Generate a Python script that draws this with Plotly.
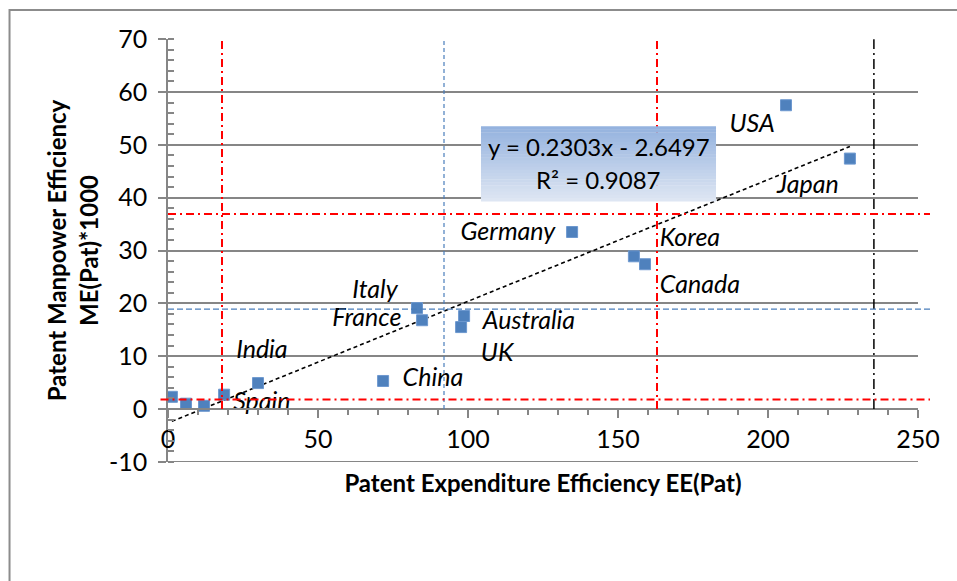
import plotly.graph_objects as go
import numpy as np

# ---- data ----
countries = ["USA", "Japan", "Korea", "Canada", "Germany", "Italy", "France",
             "Australia", "UK", "China", "India", "Spain", "", "", ""]
ee_pat = [206.0, 227.3, 155.3, 159.0, 134.7, 83.0, 84.7, 98.7, 97.7, 71.7,
          30.0, 18.7, 1.3, 6.0, 12.0]
me_pat = [57.5, 47.4, 28.9, 27.4, 33.5, 19.1, 16.8, 17.6, 15.5, 5.3,
          4.9, 2.7, 2.3, 1.0, 0.6]

label_names = ["USA", "Japan", "Korea", "Canada", "Germany", "Italy", "France",
               "Australia", "UK", "China", "India", "Spain"]
label_x = [194.7, 213.3, 174.0, 177.3, 113.3, 69.0, 66.3, 120.3, 109.7, 88.3, 31.3, 31.3]
label_y = [53.7, 42.0, 32.1, 23.1, 33.1, 22.1, 16.8, 16.3, 10.2, 5.5, 10.8, 0.9]

# trendline (from chart equation)
slope, intercept, r2 = 0.2303, -2.6497, 0.9087

# reference lines
red_v = [18.0, 163.0]
blue_v = 92.0
black_v = 235.3
red_h = [36.9, 1.8]
blue_h = 18.9

x_ticks = [0, 50, 100, 150, 200, 250]
y_ticks = [-10, 0, 10, 20, 30, 40, 50, 60, 70]
y_ticktext = ["-10", "0", "10", "20", "30", "40", "50", "60", "70"]

FONT = "Lato"
GRAY = "#868686"
BLUE_LINE = "#4a7ebb"

fig = go.Figure()

tx = np.array([min(ee_pat), max(ee_pat)])
fig.add_trace(go.Scatter(x=tx, y=slope * tx + intercept, mode="lines",
                         line=dict(color="black", width=1.6, dash="4px,3px"),
                         showlegend=False, hoverinfo="skip"))

fig.add_trace(go.Scatter(x=ee_pat, y=me_pat, mode="markers",
                         marker=dict(symbol="square", size=11, color="#4f81bd",
                                     line=dict(color="#6d98cf", width=1)),
                         showlegend=False))

fig.add_trace(go.Scatter(x=label_x, y=label_y, mode="text", text=label_names,
                         textfont=dict(family=FONT, size=25, color="black", style="italic"),
                         cliponaxis=False, showlegend=False, hoverinfo="skip"))

shapes = []
# bottom gridline at the lowest y tick
shapes.append(dict(type="line", xref="paper", yref="y", x0=-0.0107, x1=1,
                   y0=y_ticks[0], y1=y_ticks[0], line=dict(color=GRAY, width=1.5),
                   layer="below"))
for xv in red_v:
    shapes.append(dict(type="line", xref="x", yref="y", x0=xv, x1=xv, y0=0, y1=70,
                       line=dict(color="#ff0000", width=2, dash="8px,4px,2px,4px")))
shapes.append(dict(type="line", xref="x", yref="y", x0=blue_v, x1=blue_v, y0=0, y1=70,
                   line=dict(color=BLUE_LINE, width=1.2, dash="4px,3px")))
shapes.append(dict(type="line", xref="x", yref="y", x0=black_v, x1=black_v, y0=0, y1=70,
                   line=dict(color="black", width=1.5, dash="10px,4px,2px,4px")))
for i, yv in enumerate(red_h):
    shapes.append(dict(type="line", xref="paper", yref="y", x0=-0.01 if i == 1 else 0,
                       x1=1.016, y0=yv, y1=yv,
                       line=dict(color="#ff0000", width=2, dash="8px,4px,2px,4px")))
shapes.append(dict(type="line", xref="paper", yref="y", x0=0, x1=1.016, y0=blue_h, y1=blue_h,
                   line=dict(color=BLUE_LINE, width=1.2, dash="6px,3px")))

# equation box with vertical gradient
bx0, bx1, by0, by1 = 0.4173, 0.7307, 0.617, 0.794
n = 24
top = np.array([149, 179, 223])
bot = np.array([222, 230, 243])
for k in range(n):
    t = k / (n - 1)
    c = top * (1 - t) + bot * t
    y_hi = by1 - (by1 - by0) * k / n
    y_lo = by1 - (by1 - by0) * (k + 1) / n
    shapes.append(dict(type="rect", xref="paper", yref="paper", x0=bx0, x1=bx1,
                       y0=y_lo - 0.001, y1=y_hi, line=dict(width=0),
                       fillcolor="rgb(%d,%d,%d)" % tuple(c.astype(int)), layer="above"))

# outer chart border
shapes.append(dict(type="rect", xref="paper", yref="paper", x0=-0.2113, x1=1.06,
                   y0=-0.3, y1=1.0686, line=dict(color="#8c8c8c", width=2)))

annotations = [
    dict(xref="paper", yref="paper", x=(bx0 + bx1) / 2, y=0.745, yanchor="middle",
         text="y = %.4fx - %.4f" % (slope, -intercept), showarrow=False,
         font=dict(family=FONT, size=24, color="black")),
    dict(xref="paper", yref="paper", x=(bx0 + bx1) / 2, y=0.667, yanchor="middle",
         text="R² = %.4f" % r2, showarrow=False,
         font=dict(family=FONT, size=24, color="black")),
]

fig.update_layout(
    width=957, height=581,
    margin=dict(l=168, r=39, t=39, b=119),
    paper_bgcolor="white", plot_bgcolor="white",
    shapes=shapes, annotations=annotations,
    font=dict(family=FONT, color="black"),
    xaxis=dict(range=[0, 250], tickvals=x_ticks, anchor="free", position=0.125,
               showline=True, linecolor=GRAY, linewidth=1.5,
               ticks="outside", ticklen=8, tickcolor=GRAY, tickwidth=1.5,
               minor=dict(dtick=10, ticks="outside", ticklen=5, tickcolor=GRAY, tickwidth=1.5),
               showgrid=False, zeroline=False, tickfont=dict(size=25),
               title=dict(text="<b>Patent Expenditure Efficiency EE(Pat)</b>",
                          font=dict(size=24), standoff=22)),
    yaxis=dict(range=[-10.04, 70.04], tickvals=y_ticks, ticktext=y_ticktext,
               showline=True, linecolor=GRAY, linewidth=1.5,
               ticks="outside", ticklen=8, tickcolor=GRAY, tickwidth=1.5,
               ticklabelstandoff=6,
               minor=dict(dtick=2, ticks="inside", ticklen=6, tickcolor=GRAY, tickwidth=1.5,
                          showgrid=False),
               showgrid=True, gridcolor=GRAY, gridwidth=1.5, zeroline=False,
               tickfont=dict(size=25),
               title=dict(text="<b>Patent Manpower Efficiency<br>ME(Pat)*1000</b>",
                          font=dict(size=24), standoff=4)),
)

fig.write_html("out.html")
